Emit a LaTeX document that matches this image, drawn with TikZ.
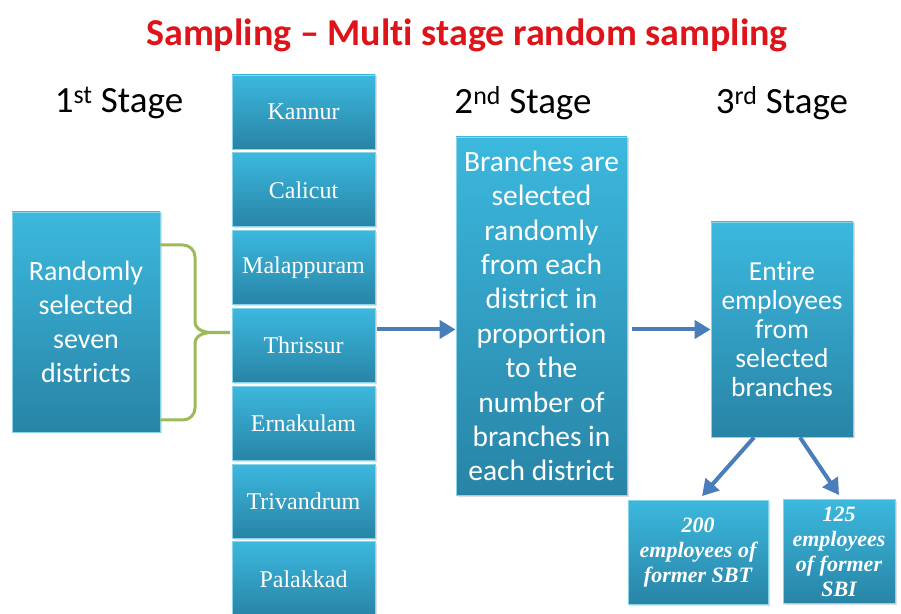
\documentclass[tikz,border=0pt]{standalone}
\usepackage{fontspec}
\setmainfont{Carlito}[Ligatures=NoCommon]
\newfontfamily\districtfont{Liberation Serif}
\usetikzlibrary{positioning,shadows,arrows.meta}
\definecolor{boxtop}{RGB}{60,184,222}
\definecolor{boxbottom}{RGB}{40,132,166}
\definecolor{flowblue}{RGB}{74,126,187}
\definecolor{bracegreen}{RGB}{155,187,89}
\definecolor{titlered}{RGB}{222,20,26}

\begin{document}
\begin{tikzpicture}[x=1pt,y=1pt,
  blue box/.style={draw=boxtop!60!white,line width=0.8pt,top color=boxtop,bottom color=boxbottom,text=white,align=center,inner sep=0pt,
    drop shadow={opacity=0.25,shadow xshift=1.5pt,shadow yshift=-1.5pt}},
  district node/.style={blue box,minimum width=143pt,minimum height=74pt,font=\districtfont\fontsize{24}{28}\selectfont},
  result node/.style={blue box,minimum height=104pt,font=\districtfont\bfseries\itshape\fontsize{22}{25}\selectfont},
  stage label/.style={font=\fontsize{37}{42}\selectfont},
  flow/.style={-{Triangle[length=16pt,width=18pt]},draw=flowblue,fill=flowblue,line width=4pt}]
  \useasboundingbox (0,0) rectangle (901,613);

  \node[font=\bfseries\fontsize{38}{44}\selectfont,text=titlered] (title) at (467,578) {Sampling – Multi stage random sampling};

  \node[stage label] (stage1) at (119,510) {1\textsuperscript{st} Stage};
  \node[stage label] (stage2) at (523,510) {2\textsuperscript{nd} Stage};
  \node[stage label] (stage3) at (782,510) {3\textsuperscript{rd} Stage};

  \node[blue box,minimum width=148pt,minimum height=220pt,font=\fontsize{28}{34}\selectfont] (seven) at (86,291)
    {Randomly\\selected\\seven\\districts};

  \node[district node] (kannur) at (303.5,501) {Kannur};
  \node[district node] (calicut) [below=3pt of kannur] {Calicut};
  \node[district node] (malappuram) [below=3pt of calicut] {Malappuram};
  \node[district node] (thrissur) [below=3pt of malappuram] {Thrissur};
  \node[district node] (ernakulam) [below=3pt of thrissur] {Ernakulam};
  \node[district node] (trivandrum) [below=3pt of ernakulam] {Trivandrum};
  \node[district node] (palakkad) [below=3pt of trivandrum] {Palakkad};

  \node[blue box,minimum width=171pt,minimum height=358pt,font=\fontsize{29.5}{34.4}\selectfont] (branch) at (541.5,297)
    {Branches are\\selected\\randomly\\from each\\district in\\proportion\\to the\\number of\\branches in\\each district};

  \node[blue box,minimum width=142pt,minimum height=215pt,font=\fontsize{27.5}{29}\selectfont] (entire) at (782,283.5)
    {Entire\\employees\\from\\selected\\branches};

  \node[result node,minimum width=140pt] (sbt) at (698,60.5) {200\\employees of\\former SBT};
  \node[result node,minimum width=112pt] (sbi) at (839,61.5) {125\\employees\\of former\\SBI};

  % brace gathering the seven districts
  \draw[bracegreen,line width=3pt,line cap=round]
    (161,368) -- (183,368) to[out=0,in=90] (195,356) -- (195,292)
    to[out=-90,in=180] (230,280.5) to[out=180,in=90] (195,269) -- (195,205)
    to[out=-90,in=0] (183,193) -- (161,193);

  \draw[flow,shorten <=2pt] (thrissur.east |- entire.west) -- (branch.west |- entire.west);
  \draw[flow,shorten <=5pt] (branch.east |- entire.west) -- (entire.west);
  \draw[flow] ([xshift=-28pt]entire.south) -- ([xshift=4pt,yshift=4pt]sbt.north);
  \draw[flow] ([xshift=18pt]entire.south) -- ([yshift=4pt]sbi.north);
\end{tikzpicture}
\end{document}
